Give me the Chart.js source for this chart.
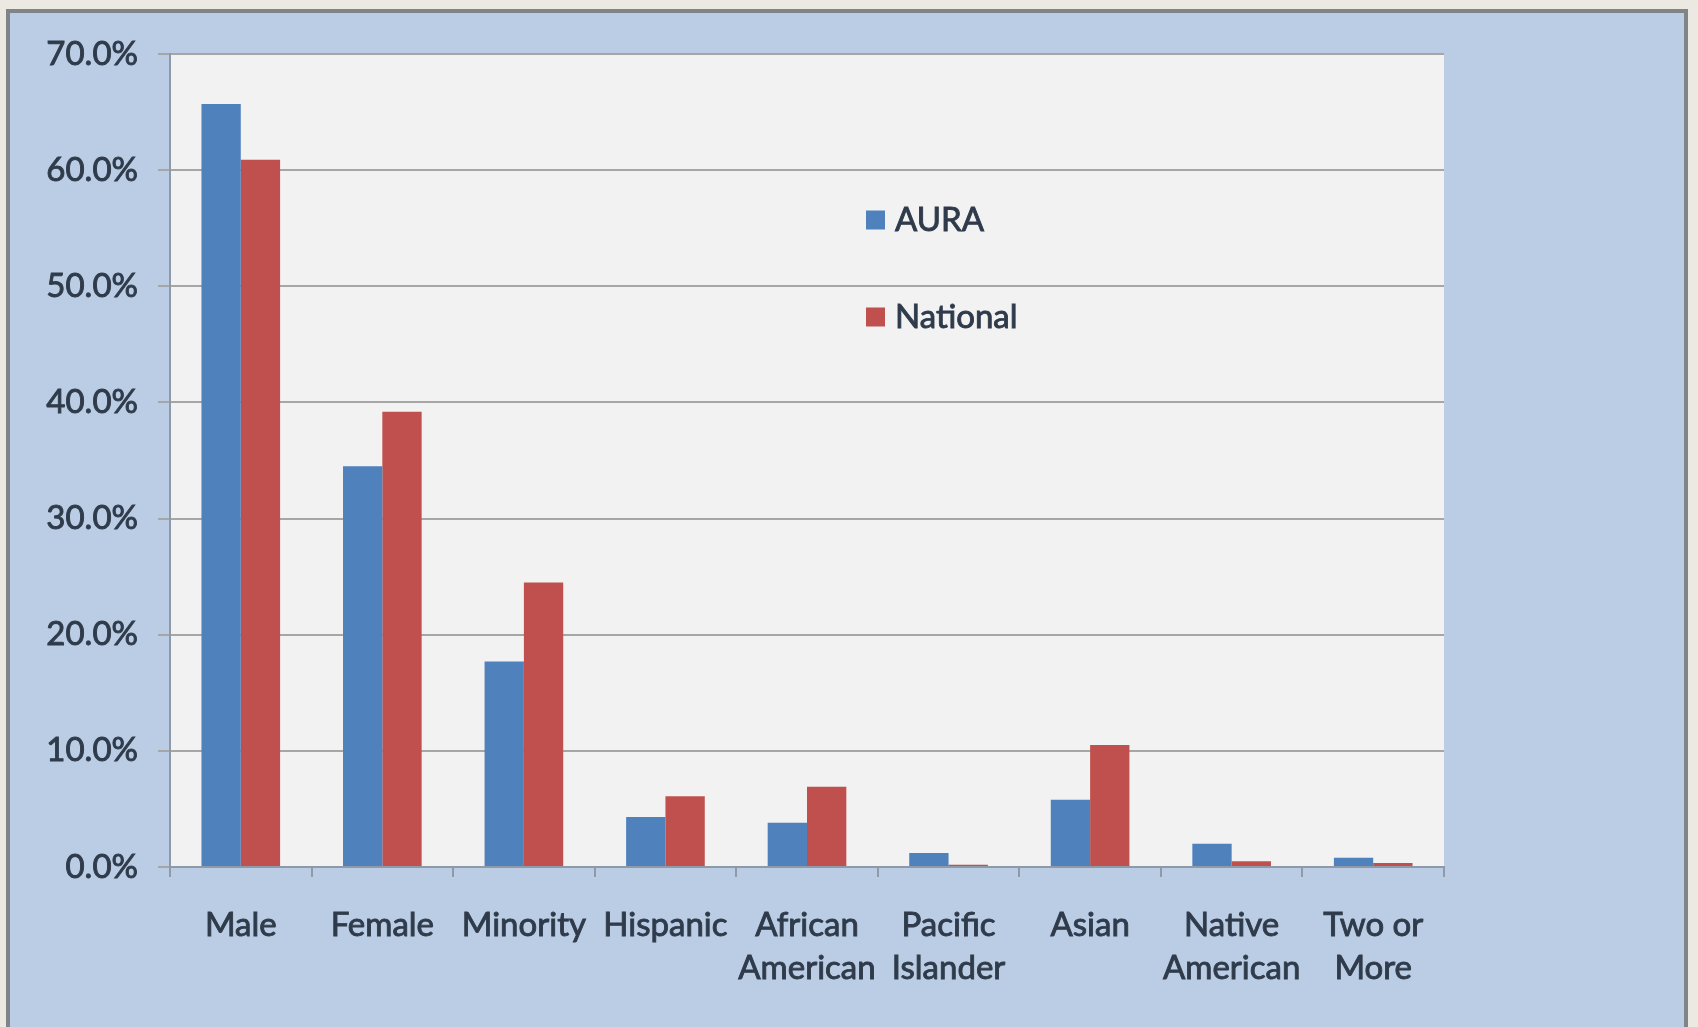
<!DOCTYPE html>
<html>
<head>
<meta charset="utf-8">
<title>AURA vs National</title>
<script src="https://cdn.jsdelivr.net/npm/chart.js@4/dist/chart.umd.min.js"></script>
<style>
  html, body { margin: 0; padding: 0; background: #ece9e3; overflow: hidden; }
  #panel {
    position: absolute; left: 6px; top: 9px; width: 1682px; height: 1030px;
    background: #bacde4; border: 4px solid #7f8486; box-sizing: border-box;
  }
  #chart { position: absolute; left: 0; top: 0; }
</style>
</head>
<body>
<div id="panel"></div>
<canvas id="chart" width="1698" height="1027"></canvas>
<script>
// Categories along the x axis (multi-line labels as arrays)
const categories = [
  'Male', 'Female', 'Minority', 'Hispanic',
  ['African', 'American'], ['Pacific', 'Islander'], 'Asian',
  ['Native', 'American'], ['Two or', 'More']
];

// Share of each group, in percent
const auraValues     = [65.7, 34.5, 17.7, 4.3, 3.8, 1.2, 5.8, 2.0, 0.8];
const nationalValues = [60.9, 39.2, 24.5, 6.1, 6.9, 0.2, 10.5, 0.5, 0.35];

const seriesNames = ['AURA', 'National'];
const seriesColors = ['#4f81bd', '#c0504d'];

// Y axis runs 0–70 % in steps of 10
const yMin = 0, yMax = 70, yStep = 10;

const FONT = 'Lato, "Open Sans", sans-serif';
const TEXT = '#2f3b4b';
const TEXT_STROKE = 0.9;

// Plot area background
const plotBackground = {
  id: 'plotBackground',
  beforeDraw(chart) {
    const { ctx, chartArea: a } = chart;
    ctx.save();
    ctx.fillStyle = '#f2f2f2';
    ctx.fillRect(a.left, a.top, a.right - a.left, a.bottom - a.top);
    ctx.restore();
  }
};

// Legend drawn inside the plot area, one entry per line
const floatingLegend = {
  id: 'floatingLegend',
  afterDraw(chart) {
    const { ctx } = chart;
    const x = 866, box = 19, rowY = [220, 317];
    ctx.save();
    ctx.font = '33px ' + FONT;
    ctx.textBaseline = 'middle';
    ctx.textAlign = 'left';
    ctx.lineWidth = TEXT_STROKE;
    chart.data.datasets.forEach((ds, i) => {
      ctx.fillStyle = ds.backgroundColor;
      ctx.fillRect(x, rowY[i] - box / 2, box, box);
      ctx.fillStyle = TEXT;
      ctx.strokeStyle = TEXT;
      ctx.fillText(ds.label, x + box + 10, rowY[i]);
      ctx.strokeText(ds.label, x + box + 10, rowY[i]);
    });
    ctx.restore();
  }
};

new Chart(document.getElementById('chart'), {
  type: 'bar',
  data: {
    labels: categories,
    datasets: [
      { label: seriesNames[0], data: auraValues, backgroundColor: seriesColors[0] },
      { label: seriesNames[1], data: nationalValues, backgroundColor: seriesColors[1] }
    ]
  },
  options: {
    responsive: false,
    animation: false,
    devicePixelRatio: 1,
    layout: { padding: { left: 0, top: 54, right: 254, bottom: 0 } },
    datasets: {
      bar: { categoryPercentage: 1 / 1.8, barPercentage: 1.0, borderWidth: 0 }
    },
    plugins: {
      legend: { display: false },
      tooltip: { enabled: false }
    },
    scales: {
      x: {
        afterFit(scale) { scale.height = 160; },
        grid: {
          offset: true,
          drawOnChartArea: false,
          drawTicks: true,
          tickLength: 10,
          color: '#8e9aa8',
          lineWidth: 2
        },
        border: { display: true, color: '#8e9aa8', width: 2 },
        ticks: {
          color: TEXT,
          textStrokeColor: TEXT,
          textStrokeWidth: TEXT_STROKE,
          padding: 27,
          maxRotation: 0,
          autoSkip: false,
          font: { family: FONT, size: 33, lineHeight: 1.3 }
        }
      },
      y: {
        min: yMin,
        max: yMax,
        afterFit(scale) { scale.width = 170; },
        grid: {
          color: '#a6a6a6',
          lineWidth: 2,
          drawTicks: true,
          tickLength: 12
        },
        border: { display: true, color: '#8e9aa8', width: 2 },
        ticks: {
          stepSize: yStep,
          color: TEXT,
          textStrokeColor: TEXT,
          textStrokeWidth: TEXT_STROKE,
          padding: 20,
          font: { family: FONT, size: 33 },
          callback: v => v.toFixed(1) + '%'
        }
      }
    }
  },
  plugins: [plotBackground, floatingLegend]
});
</script>
</body>
</html>
